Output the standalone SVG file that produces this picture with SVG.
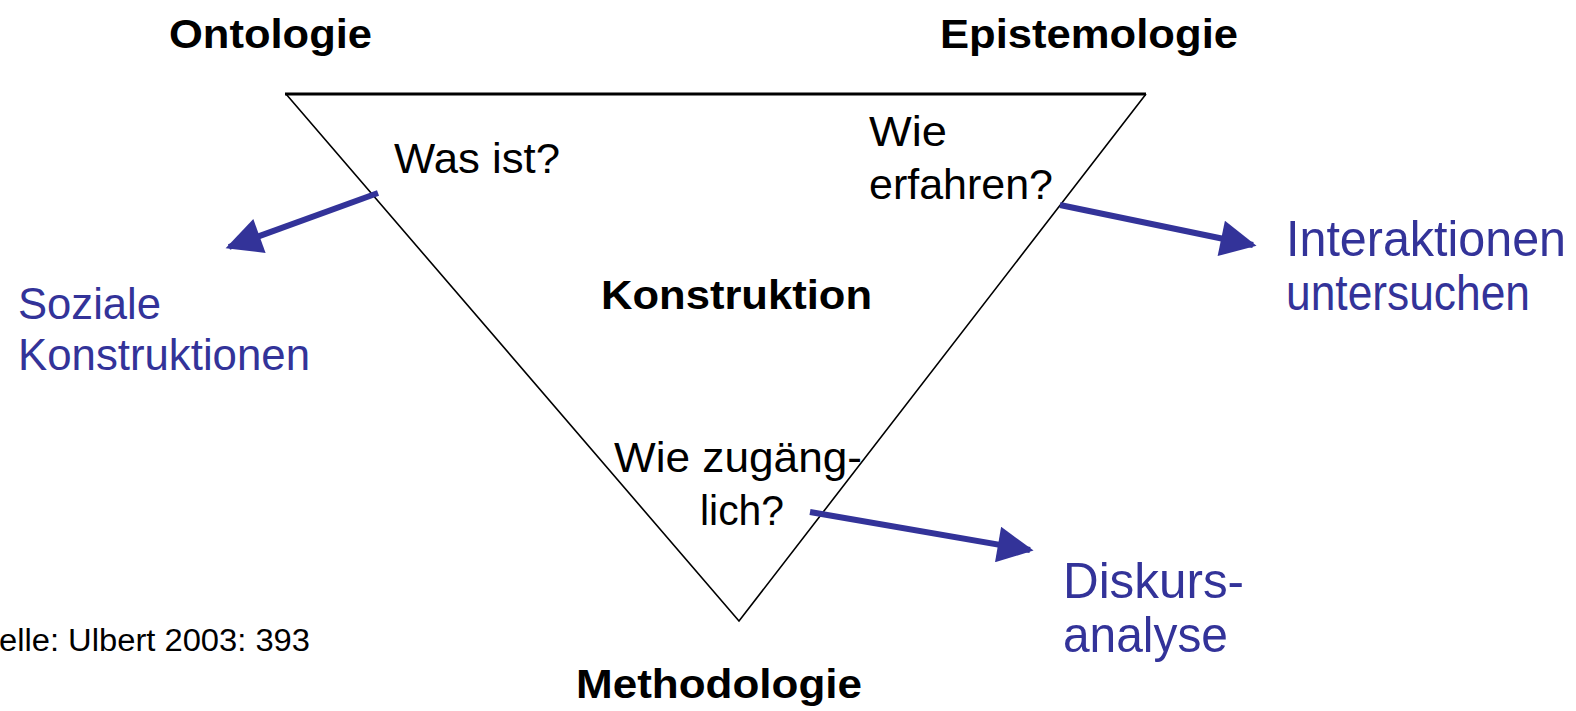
<svg xmlns="http://www.w3.org/2000/svg" width="1576" height="711" viewBox="0 0 1576 711">
<style>
.b{font-family:"Liberation Sans",Arial,sans-serif;font-weight:bold;font-size:40px;fill:#000}
.r{font-family:"Liberation Sans",Arial,sans-serif;font-size:43px;fill:#000}
.bl{font-family:"Liberation Sans",Arial,sans-serif;font-size:44px;fill:#333399}
.bl2{font-family:"Liberation Sans",Arial,sans-serif;font-size:50px;fill:#333399}
.src{font-family:"Liberation Sans",Arial,sans-serif;font-size:31px;fill:#000}
.arr{stroke:#333399;stroke-width:6;fill:none}
</style>
<defs>
<marker id="ah" viewBox="0 0 10 10" refX="9" refY="5" markerWidth="7" markerHeight="6" markerUnits="strokeWidth" orient="auto">
<path d="M0,0 L10,5 L0,10 z" fill="#333399"/>
</marker>
</defs>
<rect width="1576" height="711" fill="#fff"/>
<g id="triangle">
<line x1="285" y1="94" x2="1146" y2="94" stroke="#000" stroke-width="3"/>
<polyline points="286,94 739,621 1146,94" fill="none" stroke="#000" stroke-width="1.6"/>
</g>
<g id="connectors">
<line class="arr" x1="378" y1="193" x2="229" y2="247" marker-end="url(#ah)"/>
<line class="arr" x1="1060" y1="205" x2="1253" y2="245" marker-end="url(#ah)"/>
<line class="arr" x1="810" y1="512" x2="1030" y2="550" marker-end="url(#ah)"/>
</g>
<g id="ontologie"><text class="b" x="169" y="48" textLength="203" lengthAdjust="spacingAndGlyphs">Ontologie</text></g>
<g id="epistemologie"><text class="b" x="940" y="48" textLength="298" lengthAdjust="spacingAndGlyphs">Epistemologie</text></g>
<g id="methodologie"><text class="b" x="576" y="698" font-size="42" textLength="286" lengthAdjust="spacingAndGlyphs">Methodologie</text></g>
<g id="konstruktion"><text class="b" x="601" y="309" font-size="44" textLength="271" lengthAdjust="spacingAndGlyphs">Konstruktion</text></g>
<g id="was-ist"><text class="r" x="394" y="173" textLength="166" lengthAdjust="spacingAndGlyphs">Was ist?</text></g>
<g id="wie-erfahren">
<text class="r" x="869" y="146" textLength="78" lengthAdjust="spacingAndGlyphs">Wie</text>
<text class="r" x="869" y="199" textLength="184" lengthAdjust="spacingAndGlyphs">erfahren?</text>
</g>
<g id="wie-zugaenglich">
<text class="r" x="614" y="472" textLength="248" lengthAdjust="spacingAndGlyphs">Wie zugäng-</text>
<text class="r" x="700" y="525" textLength="84" lengthAdjust="spacingAndGlyphs">lich?</text>
</g>
<g id="soziale-konstruktionen">
<text class="bl" x="18" y="319" textLength="143" lengthAdjust="spacingAndGlyphs">Soziale</text>
<text class="bl" x="18" y="370" textLength="292" lengthAdjust="spacingAndGlyphs">Konstruktionen</text>
</g>
<g id="interaktionen">
<text class="bl2" x="1286" y="256" textLength="280" lengthAdjust="spacingAndGlyphs">Interaktionen</text>
<text class="bl2" x="1286" y="310" textLength="244" lengthAdjust="spacingAndGlyphs">untersuchen</text>
</g>
<g id="diskursanalyse">
<text class="bl2" x="1063" y="598" textLength="181" lengthAdjust="spacingAndGlyphs">Diskurs-</text>
<text class="bl2" x="1063" y="652" textLength="165" lengthAdjust="spacingAndGlyphs">analyse</text>
</g>
<g id="source"><text class="src" x="-1" y="651" textLength="311" lengthAdjust="spacingAndGlyphs">elle: Ulbert 2003: 393</text></g>
</svg>
